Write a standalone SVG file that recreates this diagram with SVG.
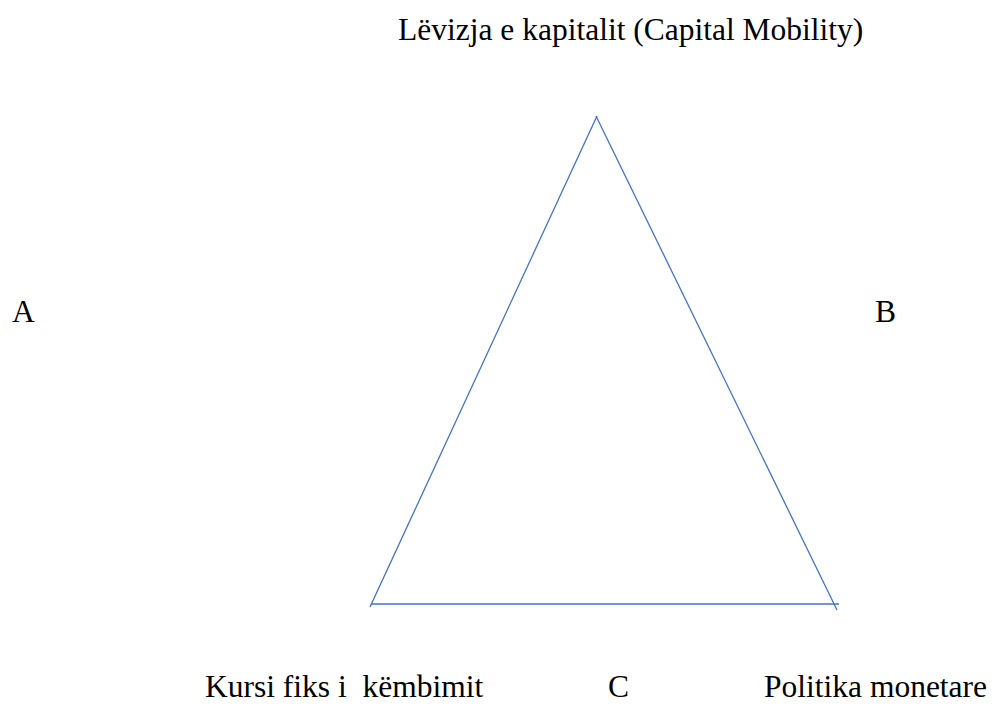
<svg xmlns="http://www.w3.org/2000/svg" width="994" height="704" viewBox="0 0 994 704">
<style>
text { font-family: 'Liberation Serif', 'Times New Roman', Times, serif; font-size: 31.5px; fill: #000; }
.edge { stroke: #4472C4; stroke-width: 1.3; fill: none; }
</style>
<rect width="994" height="704" fill="#fff"/>
<g id="connectors">
<line class="edge" x1="597" y1="116" x2="370" y2="607"/>
<line class="edge" x1="596" y1="116" x2="837" y2="610"/>
<line class="edge" x1="371" y1="604" x2="839" y2="604"/>
</g>
<g id="top"><text x="398" y="40">Lëvizja e kapitalit (Capital Mobility)</text></g>
<g id="A"><text x="12" y="322">A</text></g>
<g id="B"><text x="875" y="322">B</text></g>
<g id="left"><text x="205" y="697" xml:space="preserve">Kursi fiks i  këmbimit</text></g>
<g id="C"><text x="608" y="697">C</text></g>
<g id="right"><text x="764" y="697">Politika monetare</text></g>
</svg>
